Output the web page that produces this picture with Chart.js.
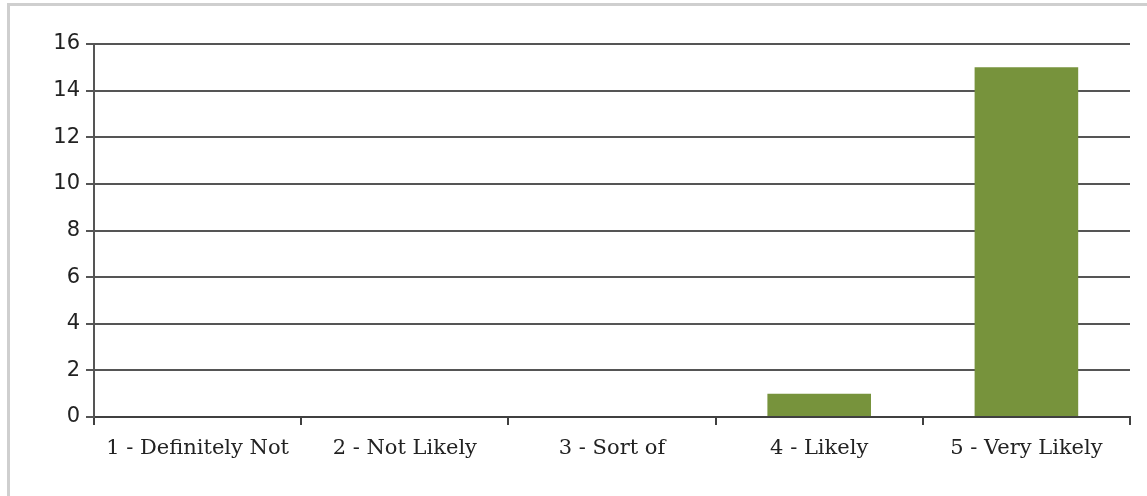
<!DOCTYPE html>
<html>
<head>
<meta charset="utf-8">
<script src="https://cdn.jsdelivr.net/npm/chart.js@4.4.1/dist/chart.umd.min.js"></script>
<style>
    html, body { margin: 0; padding: 0; background: #fff; overflow: hidden; }
    #frame { position: absolute; left: 7px; top: 3px; width: 1200px; height: 600px; border: 3px solid #cfcfcf; box-sizing: border-box; }
    #wrap { position: absolute; left: 0; top: 0; width: 1147px; height: 496px; }
</style>
</head>
<body>
<div id="frame"></div>
<div id="wrap"><canvas id="surveyChart"></canvas></div>
<script>
var categories = ['1 - Definitely Not', '2 - Not Likely', '3 - Sort of', '4 - Likely', '5 - Very Likely'];
var responses = [0, 0, 0, 1, 15];
var yMax = 16;
var yStep = 2;

var chart;

window.onload = function(){
    var canvas = document.getElementById('surveyChart').getContext('2d');
    chart = new Chart(canvas, {
        type: 'bar',
        data: {
            labels: categories,
            datasets: [{
                label: 'Responses',
                data: responses,
                backgroundColor: '#77933C',
                borderWidth: 0,
                barPercentage: 0.5,
                categoryPercentage: 1
            }]
        },
        options: {
            responsive: true,
            maintainAspectRatio: false,
            animation: false,
            layout: {
                padding: { top: 44, right: 17, bottom: 0, left: 0 }
            },
            plugins: {
                legend: { display: false },
                tooltip: { enabled: false }
            },
            scales: {
                x: {
                    afterFit: function(s){ s.height = 79; },
                    grid: {
                        offset: true,
                        drawOnChartArea: true,
                        // only the right-hand frame line shows on the plot
                        color: function(ctx){ return ctx.index === categories.length ? '#c4c4c4' : 'rgba(0,0,0,0)'; },
                        tickColor: '#404040',
                        tickLength: 8,
                        lineWidth: 2
                    },
                    border: { color: '#404040', width: 2 },
                    ticks: {
                        color: '#222',
                        padding: 11,
                        maxRotation: 0,
                        font: { family: 'DejaVu Serif', size: 21 }
                    }
                },
                y: {
                    min: 0,
                    max: yMax,
                    afterFit: function(s){ s.width = 94; },
                    grid: {
                        color: '#555',
                        tickColor: '#555',
                        tickLength: 8,
                        lineWidth: 2
                    },
                    border: { color: '#555', width: 2 },
                    ticks: {
                        stepSize: yStep,
                        color: '#222',
                        padding: 6,
                        font: { family: 'DejaVu Sans', size: 21 }
                    }
                }
            }
        }
    });
}
</script>
</body>
</html>
